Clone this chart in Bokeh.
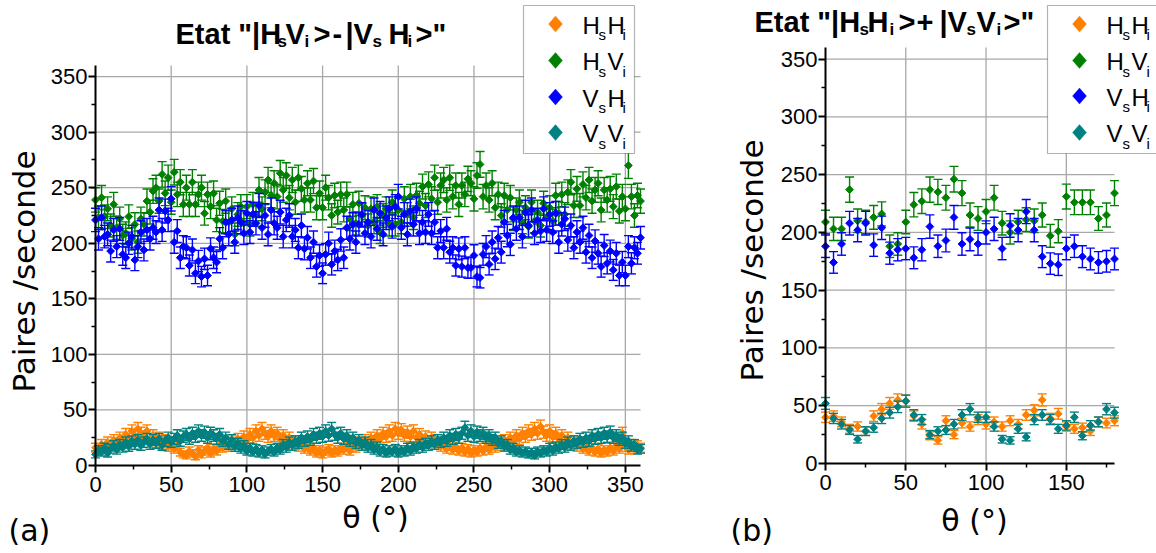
import numpy as np
from bokeh.plotting import figure
from bokeh.models import Label, BoxAnnotation, PolyAnnotation, Range1d, FixedTicker
from bokeh.layouts import row
from bokeh.embed import file_html
from bokeh.resources import INLINE

# ---------------- data : panel (a), theta every 2 degrees ----------------
theta_a = list(range(0, 361, 2))
hh_a = [16, 13, 19, 15, 21, 17, 23, 19, 25, 22,
        28, 24, 31, 27, 33, 29, 26, 31, 24, 27,
        21, 25, 19, 23, 17, 20, 15, 18, 12, 10,
        9, 13, 11, 8, 14, 10, 13, 16, 11, 15,
        13, 18, 16, 20, 17, 22, 19, 24, 21, 26,
        23, 28, 25, 31, 27, 33, 29, 26, 31, 27,
        29, 24, 27, 21, 25, 19, 22, 17, 20, 15,
        18, 13, 16, 11, 14, 10, 13, 15, 11, 14,
        12, 16, 14, 18, 13, 19, 16, 21, 18, 23,
        19, 25, 22, 27, 24, 29, 26, 31, 27, 33,
        29, 32, 27, 30, 26, 31, 25, 28, 23, 26,
        21, 25, 19, 23, 17, 20, 15, 18, 14, 17,
        13, 16, 12, 15, 11, 14, 12, 16, 13, 17,
        14, 19, 16, 21, 18, 23, 20, 25, 22, 27,
        24, 29, 26, 31, 28, 33, 29, 35, 30, 27,
        31, 26, 29, 24, 27, 21, 25, 19, 22, 17,
        20, 15, 18, 13, 16, 12, 15, 11, 14, 12,
        16, 13, 18, 15, 29, 17, 14, 19, 15, 18,
        16]
hv_a = [239, 223, 241, 224, 231, 216, 235, 214, 222, 207,
        209, 224, 204, 217, 201, 222, 217, 238, 228, 247,
        250, 238, 262, 245, 259, 237, 264, 244, 255, 235,
        250, 235, 255, 235, 244, 250, 227, 244, 233, 245,
        221, 236, 220, 238, 219, 231, 208, 226, 233, 218,
        233, 217, 235, 226, 248, 231, 246, 257, 243, 254,
        242, 263, 248, 261, 241, 257, 237, 259, 249, 239,
        254, 239, 256, 232, 245, 232, 250, 241, 225, 243,
        228, 244, 230, 244, 222, 235, 218, 236, 225, 232,
        216, 231, 219, 233, 210, 225, 231, 217, 237, 217,
        230, 219, 240, 226, 242, 223, 243, 236, 251, 234,
        253, 240, 259, 237, 252, 257, 239, 259, 242, 252,
        235, 252, 244, 258, 254, 240, 261, 271, 242, 252,
        239, 254, 232, 244, 225, 243, 230, 241, 222, 230,
        237, 219, 232, 215, 237, 220, 228, 216, 236, 223,
        232, 220, 243, 227, 244, 226, 246, 255, 234, 249,
        234, 253, 241, 257, 238, 248, 254, 230, 248, 239,
        249, 233, 251, 229, 242, 231, 270, 242, 225, 243,
        238]
vh_a = [221, 204, 223, 206, 208, 193, 212, 197, 213, 190,
        187, 200, 206, 185, 197, 210, 194, 212, 204, 214,
        210, 230, 212, 229, 221, 240, 201, 211, 187, 197,
        196, 180, 194, 173, 184, 170, 186, 171, 195, 187,
        183, 204, 196, 219, 208, 221, 201, 223, 219, 209,
        227, 210, 226, 218, 234, 214, 225, 208, 230, 218,
        214, 228, 206, 221, 225, 206, 212, 196, 216, 195,
        205, 187, 201, 179, 189, 173, 190, 200, 181, 193,
        185, 203, 187, 214, 204, 217, 201, 217, 226, 209,
        219, 206, 230, 213, 227, 208, 223, 231, 215, 233,
        242, 214, 226, 208, 229, 217, 231, 209, 219, 210,
        226, 209, 219, 196, 211, 196, 213, 192, 196, 180,
        195, 179, 196, 178, 178, 189, 170, 169, 190, 197,
        181, 201, 186, 205, 192, 219, 207, 199, 223, 213,
        223, 206, 228, 216, 230, 209, 221, 211, 231, 212,
        226, 210, 227, 201, 217, 222, 203, 216, 196, 210,
        201, 214, 192, 207, 187, 202, 191, 179, 198, 182,
        193, 176, 191, 171, 183, 171, 197, 182, 196, 191,
        205]
vv_a = [10, 14, 12, 16, 11, 15, 18, 14, 19, 16,
        21, 17, 22, 19, 23, 18, 21, 24, 19, 23,
        20, 24, 18, 22, 25, 21, 24, 27, 22, 26,
        28, 24, 29, 26, 31, 27, 30, 25, 29, 27,
        24, 28, 22, 25, 19, 23, 17, 20, 15, 18,
        13, 16, 12, 15, 11, 14, 10, 13, 15, 12,
        16, 14, 19, 16, 21, 18, 22, 20, 25, 22,
        26, 23, 28, 25, 29, 26, 31, 27, 33, 28,
        25, 29, 24, 27, 22, 25, 20, 23, 18, 21,
        16, 19, 14, 17, 12, 15, 11, 14, 12, 15,
        11, 14, 12, 16, 13, 17, 15, 19, 16, 20,
        18, 22, 19, 23, 21, 25, 22, 27, 24, 28,
        25, 29, 34, 27, 31, 26, 30, 27, 29, 25,
        27, 23, 25, 20, 22, 17, 19, 14, 16, 12,
        14, 11, 13, 10, 12, 9, 13, 11, 14, 12,
        16, 13, 17, 15, 19, 16, 21, 18, 22, 20,
        24, 21, 25, 22, 27, 24, 28, 25, 29, 26,
        30, 25, 27, 23, 25, 20, 22, 17, 19, 14,
        15]

# ---------------- data : panel (b), theta every 5 degrees ----------------
theta_b = list(range(0, 181, 5))
hh_b = [40, 41, 36, 30, 32, 28, 41, 47, 52, 55, 54, 41, 34, 24, 20, 37, 25, 35, 32,
        38, 34, 36, 32, 37, 34, 42, 46, 55, 39, 43, 32, 30, 31, 28, 36, 35, 37]
hv_b = [209, 203, 203, 237, 210, 209, 213, 216, 188, 190, 209, 224, 227, 237, 235, 230, 246, 234, 215,
        212, 218, 230, 208, 200, 209, 211, 210, 215, 197, 201, 231, 226, 226, 226, 212, 215, 234]
vh_b = [188, 174, 190, 208, 202, 208, 189, 204, 182, 185, 186, 178, 185, 205, 188, 193, 213, 190, 194,
        190, 200, 203, 186, 206, 202, 218, 202, 179, 173, 172, 186, 188, 179, 177, 174, 175, 177]
vv_b = [52, 39, 34, 29, 21, 28, 31, 39, 44, 49, 54, 42, 38, 25, 28, 29, 34, 42, 47,
        40, 40, 32, 21, 20, 30, 23, 38, 42, 38, 30, 33, 40, 24, 33, 36, 47, 44]

series_names = [("H", "s", "H", "i"), ("H", "s", "V", "i"), ("V", "s", "H", "i"), ("V", "s", "V", "i")]
colors = ["#FF8000", "#008000", "#0000FF", "#008080"]
y_ticks = [0, 50, 100, 150, 200, 250, 300, 350]
y_minor = [25, 75, 125, 175, 225, 275, 325]
x_ticks_a = [0, 50, 100, 150, 200, 250, 300, 350]
x_minor_a = [25, 75, 125, 175, 225, 275, 325]
x_ticks_b = [0, 50, 100, 150]
x_minor_b = [25, 75, 125, 175]

# ---------------- geometry (page pixel coordinates of the axes) ----------------
H = 553
PA = dict(x0=95, x1=640, y0=465, y1=65, xmax=360, ymax=360, left=0, width=708)
PB = dict(x0=825, x1=1114, y0=463, y1=47, xmax=180, ymax=360, left=708, width=448)
SHIFT = 0.34   # label anchor sits this fraction of the font size above the baseline


def dx(P, X):
    return (X - P["x0"]) * P["xmax"] / (P["x1"] - P["x0"])


def dy(P, Y):
    return (P["y0"] - Y) * P["ymax"] / (P["y0"] - P["y1"])


def make_fig(P, xt, xm):
    xr = Range1d(dx(P, P["left"]), dx(P, P["left"] + P["width"]))
    yr = Range1d(dy(P, H), dy(P, 0))
    p = figure(width=P["width"], height=H, x_range=xr, y_range=yr,
               output_backend="svg", toolbar_location=None)
    p.min_border = 0
    p.min_border_left = 0
    p.min_border_right = 0
    p.min_border_top = 0
    p.min_border_bottom = 0
    p.outline_line_color = None
    p.background_fill_color = "white"
    p.border_fill_color = "white"
    p.xgrid.visible = False
    p.ygrid.visible = False
    # grid lines limited to the data box
    gx = [t for t in xt if t > 0]
    gy = [t for t in y_ticks if t > 0]
    p.segment(x0=gx, y0=[0] * len(gx), x1=gx, y1=[P["ymax"]] * len(gx), line_color="#a8a8a8", line_width=1.3)
    p.segment(x0=[0] * len(gy), y0=gy, x1=[P["xmax"]] * len(gy), y1=gy, line_color="#a8a8a8", line_width=1.3)
    p.xaxis.ticker = FixedTicker(ticks=xt, minor_ticks=xm)
    p.yaxis.ticker = FixedTicker(ticks=y_ticks, minor_ticks=y_minor)
    p.xaxis.fixed_location = 0
    p.yaxis.fixed_location = 0
    p.xaxis.bounds = (0, P["xmax"])
    p.yaxis.bounds = (0, P["ymax"])
    for ax in (p.xaxis, p.yaxis):
        ax.axis_line_color = "black"
        ax.axis_line_width = 2
        ax.major_tick_line_color = "black"
        ax.major_tick_line_width = 2
        ax.minor_tick_line_color = "black"
        ax.minor_tick_line_width = 1.5
        ax.major_tick_in = 0
        ax.minor_tick_in = 0
        ax.major_tick_out = 7
        ax.minor_tick_out = 4
        ax.major_label_text_font = "Liberation Sans"
        ax.major_label_text_font_size = "22px"
        ax.major_label_text_color = "black"
    p.xaxis.major_label_standoff = 4
    p.yaxis.major_label_standoff = 1
    return p


def draw_series(p, x, vals, col, errscale):
    y = np.array(vals, dtype=float)
    err = np.sqrt(y * errscale)
    p.segment(x0=x, y0=y - err, x1=x, y1=y + err, line_color=col, line_width=1.4)
    p.scatter(x=x, y=y + err, marker="dash", size=9, line_color=col, line_width=1.4)
    p.scatter(x=x, y=y - err, marker="dash", size=9, line_color=col, line_width=1.4)
    p.scatter(x=x, y=y, marker="square", angle=np.pi / 4, size=5.5, fill_color=col, line_color=col)


def txt(p, P, X, Y, s, size, font="Liberation Sans", style="normal", align="left", angle=0, color="black"):
    # (X, Y) is the wanted baseline point in page pixels
    if angle == 0:
        Y = Y - SHIFT * size
    else:
        X = X - SHIFT * size
    p.add_layout(Label(x=dx(P, X), y=dy(P, Y), text=s, text_font=font, text_font_size=f"{size}px",
                       text_font_style=style, text_align=align, text_baseline="alphabetic",
                       angle=angle, angle_units="deg", text_color=color))


def title(p, P, pieces, base):
    for s, X, sub in pieces:
        if sub:
            txt(p, P, X, base + 4, s, 17, style="bold")
        else:
            txt(p, P, X, base, s, 29, style="bold")


def legend(p, P, box, cx, rows):
    x0, x1, y0, y1 = box
    p.add_layout(BoxAnnotation(left=dx(P, x0), right=dx(P, x1), top=dy(P, y0), bottom=dy(P, y1),
                               fill_color="white", fill_alpha=1, line_color="black", line_width=1.2))
    for (a, b, c, d), col, cy in zip(series_names, colors, rows):
        xs = [dx(P, cx), dx(P, cx + 7), dx(P, cx), dx(P, cx - 7)]
        ys = [dy(P, cy - 8), dy(P, cy), dy(P, cy + 8), dy(P, cy)]
        p.add_layout(PolyAnnotation(xs=xs, ys=ys, fill_color=col, fill_alpha=1, line_color=col, line_width=1))
        txt(p, P, cx + 27, cy + 9.5, a, 24)
        txt(p, P, cx + 43, cy + 16, b, 15)
        txt(p, P, cx + 52, cy + 9.5, c, 24)
        txt(p, P, cx + 67, cy + 16, d, 15)


# ---------------- panel (a) ----------------
p1 = make_fig(PA, x_ticks_a, x_minor_a)
for vals, col in zip([hh_a, hv_a, vh_a, vv_a], colors):
    draw_series(p1, theta_a, vals, col, 0.5 if np.mean(vals) > 100 else 1.0)

title(p1, PA, [("Etat \"|H", 175, 0), ("s", 277, 1), ("V", 285, 0), ("i", 304, 1), (">", 313, 0),
               ("-", 332, 0), ("|", 345, 0), ("V", 353, 0), ("s", 372, 1), ("H", 388, 0),
               ("i", 407, 1), (">\"", 415, 0)], 43)
legend(p1, PA, (523, 634, 5, 153), 555, [23.5, 60, 96.5, 132])
txt(p1, PA, 34, 271, "Paires /seconde", 31, font="DejaVu Sans", align="center", angle=90)
txt(p1, PA, 375, 527, "θ (°)", 30, font="DejaVu Sans", align="center")
txt(p1, PA, 8, 540, "(a)", 30, font="DejaVu Sans")

# ---------------- panel (b) ----------------
p2 = make_fig(PB, x_ticks_b, x_minor_b)
for vals, col in zip([hh_b, hv_b, vh_b, vv_b], colors):
    draw_series(p2, theta_b, vals, col, 0.5)

title(p2, PB, [("Etat \"|H", 754, 0), ("s", 859, 1), ("H", 867, 0), ("i", 889, 1), (">", 898, 0),
               ("+", 916, 0), ("|", 939, 0), ("V", 947, 0), ("s", 966, 1), ("V", 976, 0),
               ("i", 996, 1), (">\"", 1003, 0)], 31)
legend(p2, PB, (1047, 1175, 5, 153), 1079, [23.5, 60, 95.5, 132])
txt(p2, PB, 762, 260, "Paires /seconde", 31, font="DejaVu Sans", align="center", angle=90)
txt(p2, PB, 974, 530, "θ (°)", 30, font="DejaVu Sans", align="center")
txt(p2, PB, 730, 540, "(b)", 30, font="DejaVu Sans")

layout = row(p1, p2)
open("out.html", "w").write(file_html(layout, INLINE))
